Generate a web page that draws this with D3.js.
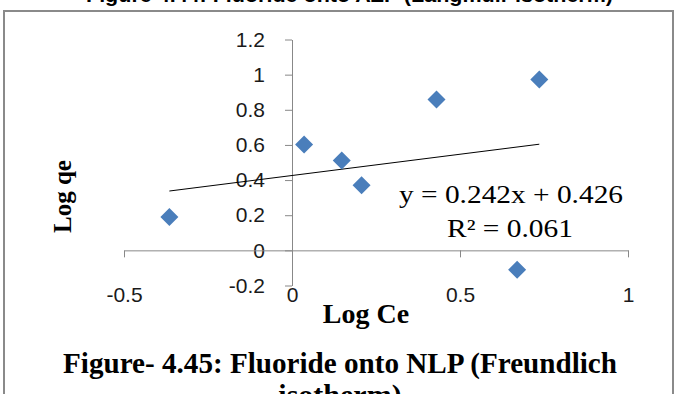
<!DOCTYPE html>
<html>
<head>
<meta charset="utf-8">
<script src="https://cdn.jsdelivr.net/npm/d3@7"></script>
<style>
  body { margin: 0; background: #fff; }
  svg { display: block; }
</style>
</head>
<body>
<svg id="chart" width="677" height="394"></svg>
<script>
// data
var logCe = [-0.365, 0.036, 0.148, 0.207, 0.43, 0.67, 0.736];
var logQe = [0.19, 0.603, 0.512, 0.37, 0.858, -0.11, 0.973];
var xTicks = [-0.5, 0, 0.5, 1];
var yTicks = [-0.2, 0, 0.2, 0.4, 0.6, 0.8, 1, 1.2];
var slope = 0.242;
var intercept = 0.426;
var eqText = "y = 0.242x + 0.426";
var r2Text = "R\u00b2 = 0.061";

var svg = d3.select("#chart");

// page title above (cut off at the top, as in the source page)
svg.append("text")
	.attr("x", 86).attr("y", 2)
	.attr("textLength", 527).attr("lengthAdjust", "spacingAndGlyphs")
	.style("font", "bold 20px 'Liberation Sans', Arial, sans-serif")
	.text("Figure 4.44: Fluoride onto AZP (Langmuir isotherm)");

// frame
svg.append("path")
	.attr("d", "M4,400 V11 H673 V400")
	.attr("fill", "none")
	.attr("stroke", "#8a8a8a")
	.attr("stroke-width", 2);

var x = d3.scaleLinear().domain([-0.5, 1]).range([124, 628]);
var y = d3.scaleLinear().domain([-0.2, 1.2]).range([285.5, 39.5]);

var tickFont = "21px 'Liberation Sans', Arial, sans-serif";
// plain hyphen for negatives, like the reference
var fmt = function(d) { return String(+d.toFixed(1)); };

// y axis
var yAxis = svg.append("g")
	.attr("transform", "translate(" + x(0) + ",0)")
	.call(d3.axisLeft(y).tickValues(yTicks).tickSize(7).tickSizeOuter(0).tickPadding(20).tickFormat(fmt));

// x axis
var xAxis = svg.append("g")
	.attr("transform", "translate(0," + y(0) + ")")
	.call(d3.axisBottom(x).tickValues(xTicks).tickSize(7).tickSizeOuter(0).tickPadding(30).tickFormat(fmt));

[yAxis, xAxis].forEach(function(g) {
	g.selectAll("path, line").attr("stroke", "#888888");
	g.selectAll("text").style("font", tickFont).attr("fill", "#1a1a1a");
});

// trend line
var xmin = d3.min(logCe), xmax = d3.max(logCe);
svg.append("line")
	.attr("x1", x(xmin)).attr("y1", y(slope * xmin + intercept))
	.attr("x2", x(xmax)).attr("y2", y(slope * xmax + intercept))
	.attr("stroke", "#000")
	.attr("stroke-width", 1);

// diamonds
var diamond = d3.symbol().type(d3.symbolSquare).size(162);
svg.append("g")
	.selectAll("path")
	.data(d3.zip(logCe, logQe))
	.enter()
	.append("path")
	.attr("d", diamond)
	.attr("transform", function(d) { return "translate(" + x(d[0]) + "," + y(d[1]) + ") rotate(45)"; })
	.attr("fill", "#4a7ebb");

// equation
var serif = "'Liberation Serif', 'Times New Roman', serif";
svg.append("text")
	.attr("x", 399).attr("y", 203)
	.attr("textLength", 224).attr("lengthAdjust", "spacingAndGlyphs")
	.style("font", "25px " + serif)
	.text(eqText);
svg.append("text")
	.attr("x", 447).attr("y", 237)
	.attr("textLength", 126).attr("lengthAdjust", "spacingAndGlyphs")
	.style("font", "25px " + serif)
	.text(r2Text);

// axis titles
svg.append("text")
	.attr("transform", "translate(71,196.5) rotate(-90)")
	.attr("text-anchor", "middle")
	.style("font", "bold 25px " + serif)
	.text("Log qe");
svg.append("text")
	.attr("x", 366).attr("y", 323)
	.attr("text-anchor", "middle")
	.style("font", "bold 28px " + serif)
	.text("Log Ce");

// caption
svg.append("text")
	.attr("x", 63).attr("y", 373)
	.attr("textLength", 554).attr("lengthAdjust", "spacingAndGlyphs")
	.style("font", "bold 30px " + serif)
	.text("Figure- 4.45: Fluoride onto NLP (Freundlich");
svg.append("text")
	.attr("x", 340).attr("y", 405)
	.attr("text-anchor", "middle")
	.style("font", "bold 30px " + serif)
	.text("isotherm)");
</script>
</body>
</html>
